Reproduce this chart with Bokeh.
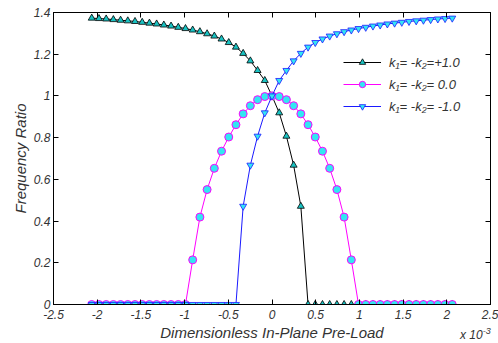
from bokeh.plotting import figure
from bokeh.models import (Legend, LegendItem, LinearAxis, Range1d, FixedTicker,
                          CustomJSTickFormatter, Div)
from bokeh.layouts import column
from bokeh.embed import file_html
from bokeh.resources import INLINE

# x in units of 1e-3
preload = [-2.0625, -1.98, -1.8975, -1.815, -1.7325, -1.65, -1.5675, -1.485, -1.4025,
           -1.32, -1.2375, -1.155, -1.0725, -0.99, -0.9075, -0.825, -0.7425, -0.66,
           -0.5775, -0.495, -0.4125, -0.33, -0.2475, -0.165, -0.0825, 0.0,
           0.0825, 0.165, 0.2475, 0.33, 0.4125, 0.495, 0.5775, 0.66, 0.7425, 0.825,
           0.9075, 0.99, 1.0725, 1.155, 1.2375, 1.32, 1.4025, 1.485, 1.5675, 1.65,
           1.7325, 1.815, 1.8975, 1.98, 2.0625]

ratio_pos = [1.373, 1.371, 1.369, 1.366, 1.363, 1.360, 1.357, 1.353, 1.349, 1.345,
             1.340, 1.335, 1.329, 1.323, 1.316, 1.308, 1.298, 1.287, 1.273, 1.256,
             1.234, 1.204, 1.168, 1.122, 1.074, 1.0,
             0.919, 0.807, 0.668, 0.471, 0, 0, 0, 0, 0, 0, 0, 0, 0, 0, 0, 0, 0,
             0, 0, 0, 0, 0, 0, 0, 0]

ratio_zero = [0, 0, 0, 0, 0, 0, 0, 0, 0, 0, 0, 0, 0, 0,
              0.214, 0.419, 0.551, 0.653, 0.735, 0.803, 0.862, 0.914, 0.953, 0.982,
              0.997, 1.0,
              0.997, 0.982, 0.953, 0.914, 0.862, 0.803, 0.735, 0.653, 0.551, 0.419,
              0.214, 0, 0, 0, 0, 0, 0, 0, 0, 0, 0, 0, 0, 0, 0]

ratio_neg = [0, 0, 0, 0, 0, 0, 0, 0, 0, 0, 0, 0, 0, 0, 0, 0, 0, 0, 0, 0, 0,
             0.471, 0.668, 0.807, 0.919, 1.0,
             1.074, 1.122, 1.168, 1.204, 1.234, 1.256, 1.273, 1.287, 1.298, 1.308,
             1.316, 1.323, 1.329, 1.335, 1.340, 1.345, 1.349, 1.353, 1.357, 1.360,
             1.363, 1.366, 1.369, 1.371, 1.373]

labels = ["k\u2081= -k\u2082=+1.0", "k\u2081= -k\u2082= 0.0", "k\u2081= -k\u2082= -1.0"]
x_ticks = [-2.5, -2, -1.5, -1, -0.5, 0, 0.5, 1, 1.5, 2, 2.5]
y_ticks = [0, 0.2, 0.4, 0.6, 0.8, 1.0, 1.2, 1.4]

FONT = "Liberation Sans"
TXT = "#333333"

p = figure(frame_width=437, frame_height=292, output_backend="svg",
           toolbar_location=None,
           x_range=Range1d(-2.5, 2.5), y_range=Range1d(0, 1.4),
           min_border_left=53, min_border_right=8, min_border_top=12,
           min_border_bottom=39, background_fill_color="white",
           border_fill_color="white")
p.grid.visible = False
p.outline_line_color = "black"
p.outline_line_width = 1

fmt = CustomJSTickFormatter(code="return String(Number(tick.toFixed(2)));")


def style_axis(ax, ticks, show_labels=True, standoff=5):
    ax.ticker = FixedTicker(ticks=ticks)
    ax.formatter = fmt
    ax.major_tick_in = 5
    ax.major_tick_out = 0
    ax.minor_tick_in = 0
    ax.minor_tick_out = 0
    ax.axis_line_color = "black"
    ax.major_tick_line_color = "black"
    ax.major_label_text_font = FONT
    ax.major_label_text_font_style = "italic"
    ax.major_label_text_font_size = "12px"
    ax.major_label_text_color = TXT
    ax.major_label_standoff = standoff
    if not show_labels:
        ax.major_label_text_alpha = 0
        ax.major_label_text_font_size = "1px"
        ax.major_label_standoff = 0


style_axis(p.xaxis[0], x_ticks, standoff=5)
style_axis(p.yaxis[0], y_ticks, standoff=3)
p.xaxis[0].axis_label = "Dimensionless In-Plane Pre-Load"
p.yaxis[0].axis_label = "Frequency Ratio"
for ax in (p.xaxis[0], p.yaxis[0]):
    ax.axis_label_text_font = FONT
    ax.axis_label_text_font_style = "italic"
    ax.axis_label_text_font_size = "15px"
    ax.axis_label_text_color = TXT
    ax.axis_label_standoff = 2

top = LinearAxis()
style_axis(top, x_ticks, show_labels=False)
p.add_layout(top, "above")
right = LinearAxis()
style_axis(right, y_ticks, show_labels=False)
p.add_layout(right, "right")

# series: black (+1), magenta (0), blue (-1)
l1 = p.line(preload, ratio_pos, line_color="black", line_width=1)
m1 = p.scatter(preload, ratio_pos, marker="triangle", size=7, line_color="black",
               fill_color="#19c2c2", line_width=0.8)
l2 = p.line(preload, ratio_zero, line_color="#ff00ff", line_width=1)
m2 = p.scatter(preload, ratio_zero, marker="circle", size=8, line_color="#ff00ff",
               fill_color="#33e6f2", line_width=1)
l3 = p.line(preload, ratio_neg, line_color="#1a1aff", line_width=1)
m3 = p.scatter(preload, ratio_neg, marker="inverted_triangle", size=7,
               line_color="#1a1aff", fill_color="#33e6f2", line_width=0.8)

legend = Legend(items=[LegendItem(label=labels[0], renderers=[l1, m1]),
                       LegendItem(label=labels[1], renderers=[l2, m2]),
                       LegendItem(label=labels[2], renderers=[l3, m3])],
                location=(290, 190))
legend.background_fill_alpha = 0
legend.border_line_alpha = 0
legend.padding = 0
legend.margin = 0
legend.glyph_width = 38
legend.glyph_height = 16
legend.label_height = 16
legend.spacing = 6
legend.label_standoff = 8
legend.label_text_font = FONT
legend.label_text_font_style = "italic"
legend.label_text_font_size = "13px"
legend.label_text_color = TXT
p.add_layout(legend, "center")

scale_note = Div(text="<i>x 10<sup style='font-size:9px'>-3</sup></i>",
                 width=40, height=18, margin=(-21, 0, 0, 460),
                 styles={"font-family": FONT, "font-size": "12px", "color": TXT,
                         "line-height": "18px", "overflow": "visible"})

page = column(p, scale_note, spacing=0)
open("out.html", "w").write(file_html(page, INLINE))
